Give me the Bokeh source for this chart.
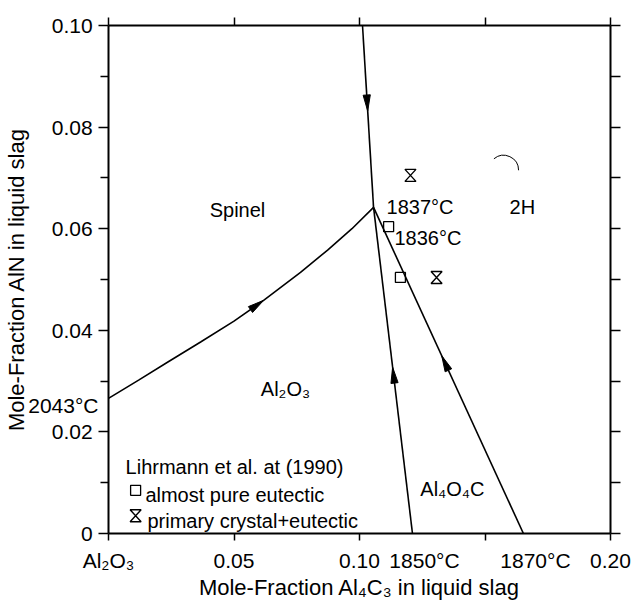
import numpy as np
from bokeh.plotting import figure
from bokeh.models import LinearAxis, FixedTicker, Range1d
from bokeh.core.properties import value
from bokeh.embed import file_html
from bokeh.resources import INLINE

# ---------------- data ----------------
x_ticks = [0.0, 0.05, 0.10, 0.15, 0.20]
x_tick_labels = ["Al₂O₃", "0.05", "0.10", "", "0.20"]
y_ticks = [0.0, 0.02, 0.04, 0.06, 0.08, 0.10]
y_tick_labels = ["0", "0.02", "0.04", "0.06", "0.08", "0.10"]
y_minor_ticks = [0.01, 0.03, 0.05, 0.07, 0.09]
right_ticks = [0.0, 0.01, 0.02, 0.03, 0.04, 0.05, 0.06, 0.07, 0.08, 0.09, 0.10]

# end temperatures of the boundaries on the Al2O3-Al4C3 axis
end_temp_x = [0.1259, 0.1701]
end_temp_labels = ["1850°C", "1870°C"]
# start temperature of the Spinel/Al2O3 boundary on the Al2O3-AlN axis
start_temp_y = 0.0252
start_temp_label = "2043°C"

# Spinel / Al2O3 boundary (from 2043 C to the eutectic)
spinel_al2o3_x = [0.0, 0.012, 0.0235, 0.0367, 0.050, 0.0618, 0.0765, 0.0873, 0.0970, 0.1056]
spinel_al2o3_y = [0.0266, 0.0302, 0.0337, 0.0377, 0.0418, 0.0459, 0.0514, 0.0558, 0.0600, 0.0642]
# Spinel / 2H boundary
spinel_2h_x = [0.1012, 0.1056]
spinel_2h_y = [0.1000, 0.0642]
# Al2O3 / Al4O4C boundary (to 1850 C)
al2o3_al4o4c_x = [0.1056, 0.1211]
al2o3_al4o4c_y = [0.0642, 0.0]
# Al4O4C / 2H boundary (to 1870 C)
al4o4c_2h_x = [0.1056, 0.1653]
al4o4c_2h_y = [0.0642, 0.0]

# Lihrmann et al. (1990) points
pure_eutectic_x = [0.1116, 0.1163]
pure_eutectic_y = [0.0604, 0.0504]
primary_x = [0.1203, 0.1307]
primary_y = [0.0705, 0.0504]

# region / temperature labels
region_texts = ["Spinel", "2H", "Al₂O₃", "Al₄O₄C"]
region_x = [0.0514, 0.1649, 0.0705, 0.1370]
region_y = [0.0636, 0.0642, 0.0285, 0.0087]
temp_texts = ["1837°C", "1836°C"]
temp_x = [0.1108, 0.1139]
temp_y = [0.0642, 0.0581]
legend_title = "Lihrmann et al. at (1990)"
legend_texts = ["almost pure eutectic", "primary crystal+eutectic"]

# ---------------- figure ----------------
FONT = "Liberation Sans"
FW, FH = 502, 508
SX, SY = FW / 0.2, FH / 0.1
NBSP = "\u00a0"

p = figure(width=631, height=602, x_range=Range1d(0, 0.2), y_range=Range1d(0, 0.1),
           output_backend="svg", toolbar_location=None,
           min_border_left=108, min_border_right=21, min_border_top=25, min_border_bottom=69)
p.outline_line_color = None
p.grid.visible = False
p.background_fill_color = "white"
p.border_fill_color = "white"

def style_axis(ax, tick_out, minor_out=8):
    ax.axis_line_width = 2
    ax.axis_line_color = "black"
    ax.major_tick_in = 0
    ax.major_tick_out = tick_out
    ax.major_tick_line_width = 1.5
    ax.major_tick_line_color = "black"
    ax.minor_tick_in = 0
    ax.minor_tick_out = minor_out
    ax.minor_tick_line_width = 1.5
    ax.minor_tick_line_color = "black"
    ax.major_label_text_font = FONT
    ax.major_label_text_font_size = "21px"
    ax.major_label_text_color = "black"
    ax.axis_label_text_font = FONT
    ax.axis_label_text_font_size = "22px"
    ax.axis_label_text_font_style = "normal"
    ax.axis_label_text_color = "black"

def label_axis(ax):
    # an axis that only carries text (no line, no tick marks)
    style_axis(ax, 0, 0)
    ax.axis_line_color = None
    ax.major_tick_line_color = None
    ax.minor_tick_line_color = None

# ---- bottom: tick marks (inner axis) + labels (outer axis)
xa = p.xaxis[0]
xa.ticker = FixedTicker(ticks=x_ticks)
style_axis(xa, 7)
xa.major_label_text_font_size = "0px"
xa.major_label_standoff = 0
xa.major_label_overrides = {t: "" for t in x_ticks}

bottom_pos = sorted([t for t, l in zip(x_ticks, x_tick_labels) if l] + end_temp_x)
bottom_text = {t: l for t, l in zip(x_ticks, x_tick_labels) if l}
bottom_text.update(dict(zip(end_temp_x, end_temp_labels)))
xb = LinearAxis(ticker=FixedTicker(ticks=bottom_pos),
                axis_label="Mole-Fraction Al₄C₃ in liquid slag")
label_axis(xb)
xb.major_label_overrides = {t: bottom_text[t] for t in bottom_pos}
xb.major_label_standoff = 8
xb.axis_label_standoff = 0
p.add_layout(xb, "below")

# ---- left: tick marks (inner axis) + labels (outer axis)
ya = p.yaxis[0]
ya.ticker = FixedTicker(ticks=y_ticks, minor_ticks=y_minor_ticks)
style_axis(ya, 10)
ya.major_label_text_font_size = "0px"
ya.major_label_standoff = 0
ya.major_label_overrides = {t: "" for t in y_ticks}

left_pos = sorted(y_ticks + [start_temp_y])
left_text = {t: l + NBSP for t, l in zip(y_ticks, y_tick_labels)}
left_text[start_temp_y] = start_temp_label
yb = LinearAxis(ticker=FixedTicker(ticks=left_pos),
                axis_label="Mole-Fraction AlN in liquid slag")
label_axis(yb)
yb.major_label_overrides = {t: left_text[t] for t in left_pos}
yb.major_label_standoff = 0
yb.axis_label_standoff = -4
p.add_layout(yb, "left")

# ---- right and top: tick marks only
ra = LinearAxis(ticker=FixedTicker(ticks=right_ticks))
style_axis(ra, 10)
ra.major_label_text_font_size = "0px"
ra.major_label_overrides = {t: "" for t in right_ticks}
p.add_layout(ra, "right")

ta = LinearAxis(ticker=FixedTicker(ticks=x_ticks))
style_axis(ta, 8)
ta.major_label_text_font_size = "0px"
ta.major_label_overrides = {t: "" for t in x_ticks}
p.add_layout(ta, "above")

# ---- boundary lines
LW = 1.6
for xs, ys in [(spinel_al2o3_x, spinel_al2o3_y), (spinel_2h_x, spinel_2h_y),
               (al2o3_al4o4c_x, al2o3_al4o4c_y), (al4o4c_2h_x, al4o4c_2h_y)]:
    p.line(xs, ys, line_color="black", line_width=LW)

def arrowhead(xs, ys, frac, forward=True, length=16.0, half=3.6):
    px = np.asarray(xs) * SX
    py = np.asarray(ys) * SY
    seg = np.hypot(np.diff(px), np.diff(py))
    cum = np.concatenate([[0.0], np.cumsum(seg)])
    d = frac * cum[-1]
    i = int(min(max(np.searchsorted(cum, d, side="right") - 1, 0), len(seg) - 1))
    t = (d - cum[i]) / seg[i]
    tx = px[i] + t * (px[i + 1] - px[i])
    ty = py[i] + t * (py[i + 1] - py[i])
    ux = (px[i + 1] - px[i]) / seg[i]
    uy = (py[i + 1] - py[i]) / seg[i]
    if not forward:
        ux, uy = -ux, -uy
    bx, by = tx - length * ux, ty - length * uy
    nx, ny = -uy, ux
    hx = [tx, bx + half * nx, bx - half * nx]
    hy = [ty, by + half * ny, by - half * ny]
    return [v / SX for v in hx], [v / SY for v in hy]

heads = [arrowhead(spinel_2h_x, spinel_2h_y, 0.47, True),
         arrowhead(spinel_al2o3_x, spinel_al2o3_y, 0.56, True),
         arrowhead(al2o3_al4o4c_x, al2o3_al4o4c_y, 0.49, False),
         arrowhead(al4o4c_2h_x, al4o4c_2h_y, 0.455, False)]
p.patches([h[0] for h in heads], [h[1] for h in heads], fill_color="black",
          line_color="black", line_width=1)

# legend marker positions (inside the plot, lower left)
legend_marker_x = [0.0108, 0.0108]
legend_marker_y = [0.0085, 0.0035]

p.scatter(pure_eutectic_x + [legend_marker_x[0]], pure_eutectic_y + [legend_marker_y[0]],
          marker="square", size=10, fill_color=None, line_color="black", line_width=1.3)

def hourglass(x, y, hw=5.5, hh=6.0):
    dx, dy = hw / SX, hh / SY
    return [x - dx, x + dx, x - dx, x + dx], [y + dy, y + dy, y - dy, y - dy]

hg = [hourglass(x, y) for x, y in zip(primary_x + [legend_marker_x[1]], primary_y + [legend_marker_y[1]])]
p.patches([h[0] for h in hg], [h[1] for h in hg], fill_color=None, line_color="black", line_width=1.4)

# small arc mark near 2H
p.arc(x=[0.1574], y=[0.0715], radius=15, radius_units="screen", start_angle=0.0,
      end_angle=2.27, line_color="black", line_width=1)

TXT = dict(text_font=value(FONT), text_font_size=value("20px"), text_color="black",
           text_baseline="alphabetic")
p.text(region_x, region_y, text=region_texts, text_align="center", **TXT)
p.text(temp_x, temp_y, text=temp_texts, text_align="left", **TXT)
p.text([0.0068], [0.0130], text=[legend_title], text_align="left", **TXT)
p.text([0.0147, 0.0155], [0.0075, 0.0024], text=legend_texts, text_align="left", **TXT)

open("out.html", "w").write(file_html(p, INLINE))
